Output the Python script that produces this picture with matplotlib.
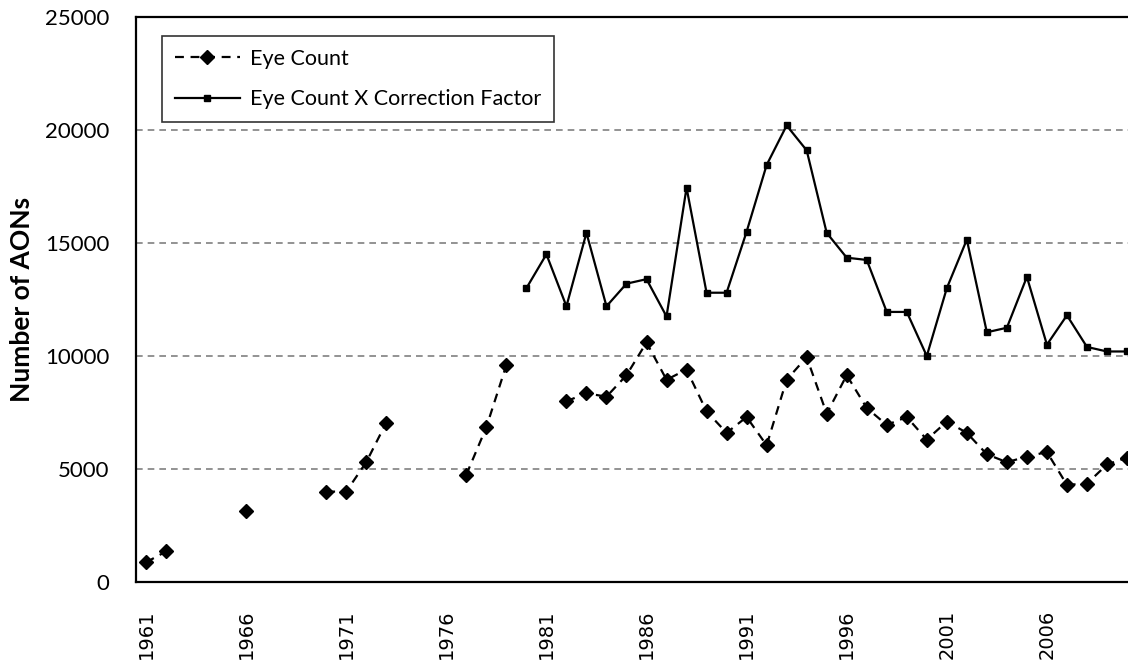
import numpy as np
import matplotlib
matplotlib.use("Agg")
import matplotlib.pyplot as plt

# dati (anni 1961-2010, NaN = dato mancante)
anni = np.arange(1961, 2011)

eye_count = [
    870, 1350, np.nan, np.nan, np.nan, 3150, np.nan, np.nan, np.nan, 4000,
    4000, 5300, 7050, np.nan, np.nan, np.nan, 4750, 6850, 9600, np.nan,
    np.nan, 8000, 8350, 8200, 9150, 10600, 8950, 9400, 7550, 6600,
    7300, 6050, 8950, 9950, 7450, 9150, 7700, 6950, 7300, 6300,
    7100, 6600, 5650, 5300, 5550, 5750, 4300, 4350, 5200, 5500,
]

eye_corr = [
    np.nan, np.nan, np.nan, np.nan, np.nan, np.nan, np.nan, np.nan, np.nan, np.nan,
    np.nan, np.nan, np.nan, np.nan, np.nan, np.nan, np.nan, np.nan, np.nan, 13000,
    14500, 12200, 15450, 12200, 13200, 13400, 11750, 17450, 12800, 12800,
    15500, 18450, 20200, 19100, 15450, 14350, 14250, 11950, 11950, 10000,
    13000, 15150, 11050, 11250, 13500, 10500, 11800, 10400, 10200, 10200,
]

etichette_x = [str(a) for a in range(1961, 2010, 5)]

W, H = 1128, 664
fig = plt.figure(figsize=(W / 100, H / 100), dpi=100)
# area del grafico (il lato destro esce dall'immagine come nell'originale)
ax = fig.add_axes([136 / W, (H - 582) / H, (1137 - 136) / W, (582 - 17) / H])

ax.plot(anni, eye_count, color="black", linestyle=(0, (4, 3)), linewidth=1.6,
        marker="D", markersize=7.5, label="Eye Count")
ax.plot(anni, eye_corr, color="black", linestyle="-", linewidth=1.6,
        marker="s", markersize=5, label="Eye Count X Correction Factor")

ax.set_xlim(1960.5, 2010.5)
ax.set_ylim(0, 25000)
ax.set_yticks(range(0, 25001, 5000))
ax.set_xticks(range(1961, 2010, 5))
ax.set_xticklabels(etichette_x, rotation=90, family="DejaVu Sans", fontsize=14)
for t in ax.get_yticklabels():
    t.set_family("Lato")
    t.set_fontsize(16)
ax.tick_params(axis="y", length=0, pad=19)
ax.tick_params(axis="x", length=0, pad=20)

for y in range(5000, 25000, 5000):
    ax.axhline(y, color="#808080", linestyle=(0, (4, 3)), linewidth=1.2, zorder=0)

for s in ax.spines.values():
    s.set_linewidth(1.6)
    s.set_color("black")

ax.set_ylabel("Number of AONs", family="Lato", fontweight="bold", fontsize=19, va="center")
ax.yaxis.set_label_coords((22 - 136) / 1001, 0.5)

leg = ax.legend(loc="upper left", bbox_to_anchor=((162 - 136) / 1001, 1 - (36 - 17) / 565),
                prop={"family": "Lato", "size": 15.5}, frameon=True, fancybox=False,
                edgecolor="black", handlelength=3.0, handletextpad=0.5, borderpad=0.6,
                labelspacing=0.95, borderaxespad=0)
leg.get_frame().set_linewidth(1.2)

fig.savefig("out.png", dpi=100)
